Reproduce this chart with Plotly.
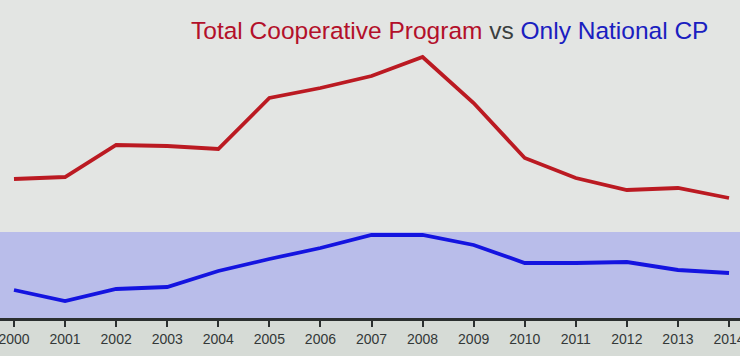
import plotly.graph_objects as go

years = list(range(2000, 2015))
tick_labels = [str(y) for y in years]
# values (relative units, 0 = axis line)
total_cp = [139, 141, 173, 172, 169, 220, 230, 242, 261, 215, 160, 140, 128, 130, 120]
national_cp = [28, 17, 29, 31, 47, 59, 70, 83, 83, 73, 55, 55, 56, 48, 45]
band_top = 86

fig = go.Figure()
fig.add_shape(type="rect", xref="paper", yref="y", x0=0, x1=1, y0=0, y1=band_top,
              fillcolor="#b9bdea", line_width=0, layer="below")
fig.add_trace(go.Scatter(x=years, y=total_cp, mode="lines",
                         line=dict(color="#bb1a22", width=3.8), name="Total Cooperative Program"))
fig.add_trace(go.Scatter(x=years, y=national_cp, mode="lines",
                         line=dict(color="#1414e0", width=3.8), name="Only National CP"))

fig.add_annotation(xref="paper", yref="paper", x=0.608, y=0.905, xanchor="center", yanchor="middle",
                   showarrow=False,
                   text="<span style='color:#b3102a'>Total Cooperative Program</span> "
                        "<span style='color:#3a3f3f'>vs</span> "
                        "<span style='color:#1a20c0'>Only National CP</span>",
                   font=dict(family="Liberation Sans, Arial, sans-serif", size=24.5))

fig.update_layout(
    width=740, height=356,
    margin=dict(l=0, r=0, t=0, b=38),
    paper_bgcolor="#d6dbd6", plot_bgcolor="#e3e5e3",
    showlegend=False,
    xaxis=dict(range=[1999.726, 2014.215], tickvals=years, ticktext=tick_labels,
               showgrid=False, zeroline=False, showline=True, linecolor="#2b2f2f", linewidth=3,
               ticks="outside", ticklen=6, tickwidth=2, tickcolor="#2b2f2f",
               tickfont=dict(family="Liberation Sans, Arial, sans-serif", size=14, color="#333838"),
               ticklabeloverflow="allow", automargin=False),
    yaxis=dict(range=[0, 318], visible=False, showgrid=False, zeroline=False),
)
fig.write_html("out.html", config={"displayModeBar": False},
               post_script="document.body.style.margin='0';document.body.style.overflow='hidden';")
